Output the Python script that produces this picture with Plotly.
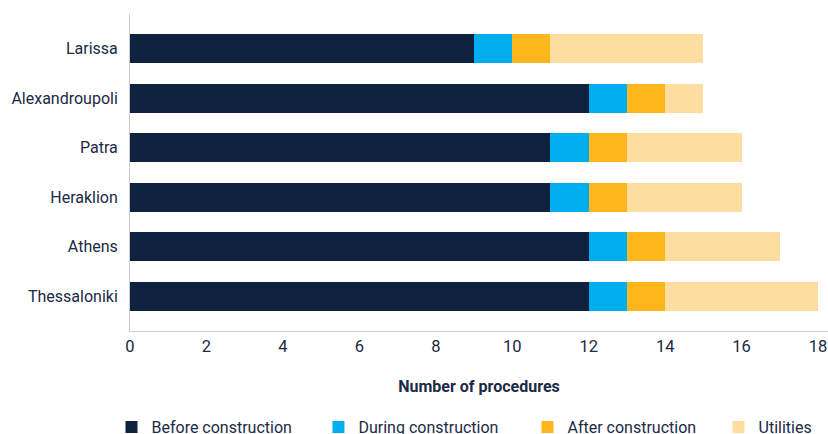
import plotly.graph_objects as go

# Cities, bottom to top as they appear on the category axis
cities = ["Thessaloniki", "Athens", "Heraklion", "Patra", "Alexandroupoli", "Larissa"]

# Number of procedures per phase
before_construction = [12, 12, 11, 11, 12, 9]
during_construction = [1, 1, 1, 1, 1, 1]
after_construction = [1, 1, 1, 1, 1, 1]
utilities = [4, 3, 3, 3, 1, 4]

series = [
    ("Before construction", before_construction, "#0E2240"),
    ("During construction", during_construction, "#00AEEF"),
    ("After construction", after_construction, "#FDB71A"),
    ("Utilities", utilities, "#FEDEA0"),
]

# Left edge (paper fraction) of each series' legend entry along the bottom row
legend_x = [-0.0265, 0.2700, 0.5695, 0.8432]

text_color = "#1B2A45"
font_family = "Roboto, 'Open Sans', sans-serif"

fig = go.Figure()
legend_layouts = {}
for i, ((name, values, color), lx) in enumerate(zip(series, legend_x)):
    legend_id = "legend" if i == 0 else f"legend{i + 1}"
    fig.add_trace(go.Bar(
        y=cities,
        x=values,
        name=name,
        orientation="h",
        marker=dict(color=color, line=dict(width=0)),
        width=0.585,
        legend=legend_id,
        showlegend=True,
    ))
    legend_layouts[legend_id] = dict(
        orientation="h",
        x=lx,
        xanchor="left",
        y=-0.303,
        yanchor="middle",
        bgcolor="rgba(0,0,0,0)",
        font=dict(size=16, color=text_color),
    )

fig.update_layout(
    barmode="stack",
    width=828,
    height=434,
    margin=dict(l=130, r=0, t=14, b=103, autoexpand=False),
    paper_bgcolor="white",
    plot_bgcolor="white",
    font=dict(family=font_family, size=16, color=text_color),
    showlegend=True,
    xaxis=dict(
        range=[0, 18.26],
        tickvals=[0, 2, 4, 6, 8, 10, 12, 14, 16, 18],
        showgrid=False,
        zeroline=False,
        showline=True,
        linecolor="#CCCCCC",
        linewidth=1,
        ticks="",
        ticklabeloverflow="allow",
        tickfont=dict(size=16.5, color=text_color),
        title=dict(
            text="<b>Number of procedures</b>",
            font=dict(size=16, color=text_color),
            standoff=26,
        ),
    ),
    yaxis=dict(
        range=[-0.7, 5.7],
        showgrid=False,
        zeroline=False,
        showline=True,
        linecolor="#CCCCCC",
        linewidth=1,
        ticks="",
        ticklabelstandoff=8,
        tickfont=dict(size=16, color=text_color),
    ),
    **legend_layouts,
)

fig.write_html("out.html")
